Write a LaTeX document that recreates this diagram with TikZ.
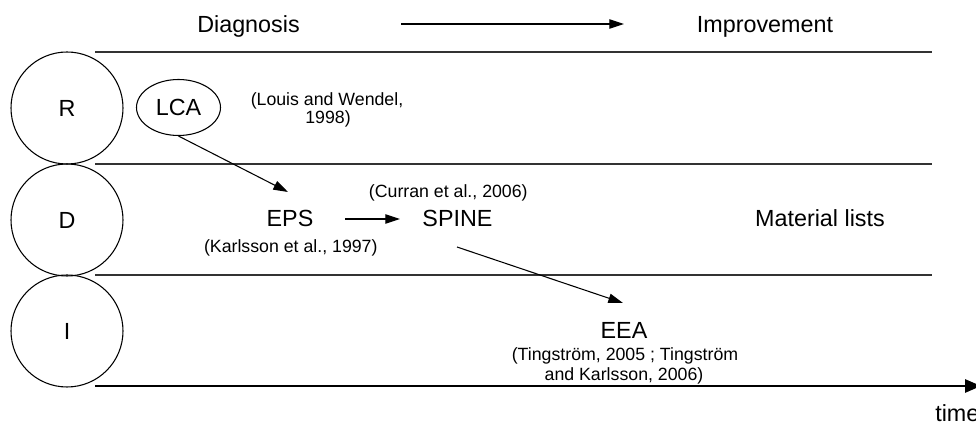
\documentclass[tikz,border=0pt]{standalone}
\usepackage{fontspec}
\setmainfont{Liberation Sans}
\usetikzlibrary{arrows.meta,shapes.geometric}
\begin{document}
\begin{tikzpicture}[x=0.75pt,y=-0.75pt,
  big/.style={font=\fontsize{17.5}{21}\selectfont, inner sep=0pt},
  small/.style={font=\fontsize{13.3}{16}\selectfont, inner sep=0pt},
  lane/.style={line width=1.2pt, draw=black!80},
  phase/.style={circle, draw, line width=0.8pt, minimum size=84pt, inner sep=0pt, font=\fontsize{17.5}{21}\selectfont},
  oval/.style={ellipse, draw, line width=0.8pt, minimum width=63pt, minimum height=42pt, inner sep=0pt, font=\fontsize{17.5}{21}\selectfont},
  conn/.style={line width=0.8pt, -{Triangle[length=11pt,width=7pt]}},
  timeaxis/.style={line width=1.4pt, -{Triangle[length=12pt,width=10pt]}}
]
\useasboundingbox (0,0) rectangle (976,423);

% header
\node[big, anchor=base] (diag) at (248.5,33) {Diagnosis};
\node[big, anchor=base] (impr) at (765,33) {Improvement};
\coordinate (ta) at (401,24);
\coordinate (tb) at (624,24);
\draw[conn] (ta) -- (tb);

% lanes
\coordinate (l1a) at (95,52);  \coordinate (l1b) at (932,52);
\coordinate (l2a) at (95,164); \coordinate (l2b) at (932,164);
\coordinate (l3a) at (95,275); \coordinate (l3b) at (932,275);
\draw[lane] (l1a) -- (l1b);
\draw[lane] (l2a) -- (l2b);
\draw[lane] (l3a) -- (l3b);

% phase circles
\node[phase] (R) at (67,108) {R};
\node[phase] (D) at (67,220) {D};
\node[phase] (I) at (67,331) {I};

% R lane
\node[oval] (lca) at (178.5,107.5) {LCA};
\node[small, anchor=base] (louis1) at (327,106) {(Louis and Wendel,};
\node[small, anchor=base] (louis2) at (328,124) {1998)};

% D lane
\node[big, anchor=base] (eps) at (290,226.7) {EPS};
\node[small, anchor=base] (karl) at (290.8,253) {(Karlsson et al., 1997)};
\node[big, anchor=base] (spine) at (457.5,226.7) {SPINE};
\node[small, anchor=base] (curran) at (448.3,198) {(Curran et al., 2006)};
\node[big, anchor=base] (mat) at (820,226.7) {Material lists};

% I lane
\node[big, anchor=base] (eea) at (624,339) {EEA};
\node[small, anchor=base] (ting1) at (625,361) {(Tingstr\"om, 2005 ; Tingstr\"om};
\node[small, anchor=base] (ting2) at (624,380.7) {and Karlsson, 2006)};

% connectors
\coordinate (epsin) at (288,192);
\draw[conn] (lca.south) -- (epsin);
\coordinate (es1) at (345,219);
\coordinate (es2) at (400,219);
\draw[conn] (es1) -- (es2);
\coordinate (spout) at (457,247);
\coordinate (eeain) at (623,303);
\draw[conn] (spout) -- (eeain);

% time axis
\coordinate (t1) at (95,386);
\coordinate (t2) at (981,386);
\draw[timeaxis] (t1) -- (t2);
\node[big, anchor=base west] (time) at (935,421.5) {time};
\end{tikzpicture}
\end{document}
